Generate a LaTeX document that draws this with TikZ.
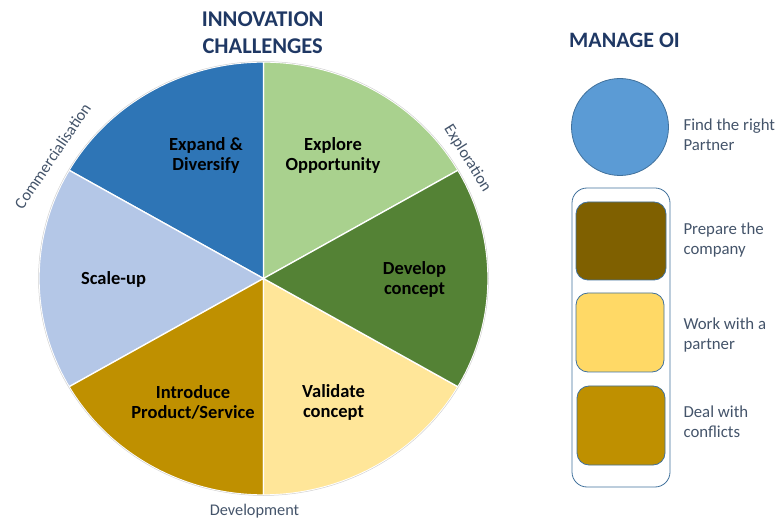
\documentclass[tikz,border=0pt]{standalone}
\usepackage{fontspec}
\setmainfont{Carlito}
\definecolor{cExplore}{HTML}{A9D18E}
\definecolor{cExpand}{HTML}{2E75B6}
\definecolor{cScale}{HTML}{B4C7E7}
\definecolor{cIntro}{HTML}{BF9000}
\definecolor{cValid}{HTML}{FFE699}
\definecolor{cDevel}{HTML}{548235}
\definecolor{cTitle}{HTML}{1F3864}
\definecolor{cLabel}{HTML}{44546A}
\definecolor{cCircle}{HTML}{5B9BD5}
\definecolor{cEdge}{HTML}{41719C}
\definecolor{cPrep}{HTML}{7F6000}
\definecolor{cWork}{HTML}{FFD966}
\definecolor{cDeal}{HTML}{BF9000}
\tikzset{
  slicelabel/.style={font=\bfseries\fontsize{18.5}{20}\selectfont, text=black, align=center},
  titlelabel/.style={font=\bfseries\fontsize{22.5}{27}\selectfont, text=cTitle, align=center},
  phaselabel/.style={font=\fontsize{16.3}{19}\selectfont, text=cLabel},
  sidelabel/.style={font=\fontsize{16.8}{20}\selectfont, text=cLabel, align=left, anchor=west},
  stepbox/.style={draw=cEdge, line width=0.8pt, rounded corners=12pt},
}
\begin{document}
\begin{tikzpicture}[x=1pt,y=1pt]
\useasboundingbox (0,0) rectangle (777,520);
% pie
\begin{scope}[shift={(263.5,241.5)}]
\foreach \a/\col in {30/cExplore,90/cExpand,150/cScale,210/cIntro,270/cValid,330/cDevel}{
  \filldraw[fill=\col, draw=white, line width=1.3pt, line join=round]
    (0,0) -- (\a:224.5 and 216.5) arc[start angle=\a, delta angle=60, x radius=224.5, y radius=216.5] -- cycle;
}
\draw[gray!35, line width=0.5pt] (0,0) ellipse[x radius=225, y radius=217];
\end{scope}
% titles
\node[titlelabel] (title) at (262.7,487.5) {INNOVATION\\CHALLENGES};
\node[titlelabel, font=\bfseries\fontsize{22}{24}\selectfont] (manage) at (624.5,480) {MANAGE OI};
% slice labels
\node[slicelabel] (expand) at (206,365) {Expand \&\\Diversify};
\node[slicelabel] (explore) at (333,365) {Explore\\Opportunity};
\node[slicelabel] (develop) at (414.5,241) {Develop\\concept};
\node[slicelabel] (validate) at (333.5,118) {Validate\\concept};
\node[slicelabel] (introduce) at (193,118) {Introduce\\Product/Service};
\node[slicelabel] (scale) at (113.5,241) {Scale-up};
% phase labels
\node[phaselabel, rotate=56] (comm) at (52.5,364) {Commercialisation};
\node[phaselabel, rotate=-58] (expl) at (467.5,361.5) {Exploration};
\node[phaselabel] (dev) at (254.5,9) {Development};
% right side
\node[circle, fill=cCircle, draw=cEdge, line width=0.8pt, minimum size=97pt, inner sep=0pt] (find) at (620,393) {};
\node[draw=cEdge, line width=0.8pt, rounded corners=15pt, minimum width=98pt, minimum height=299pt, inner sep=0pt] (group) at (621,182.5) {};
\node[stepbox, fill=cPrep, minimum width=90pt, minimum height=78pt, inner sep=0pt] (prep) at (621,279) {};
\node[stepbox, fill=cWork, minimum width=88pt, minimum height=79pt, inner sep=0pt] (work) at (620,187.5) {};
\node[stepbox, fill=cDeal, minimum width=88pt, minimum height=79pt, inner sep=0pt] (deal) at (621,94.5) {};
\node[sidelabel] (tfind) at (680,385) {Find the right\\Partner};
\node[sidelabel] (tprep) at (680,280) {Prepare the\\company};
\node[sidelabel] (twork) at (680,185) {Work with a\\partner};
\node[sidelabel] (tdeal) at (680,98) {Deal with\\conflicts};
\end{tikzpicture}
\end{document}
